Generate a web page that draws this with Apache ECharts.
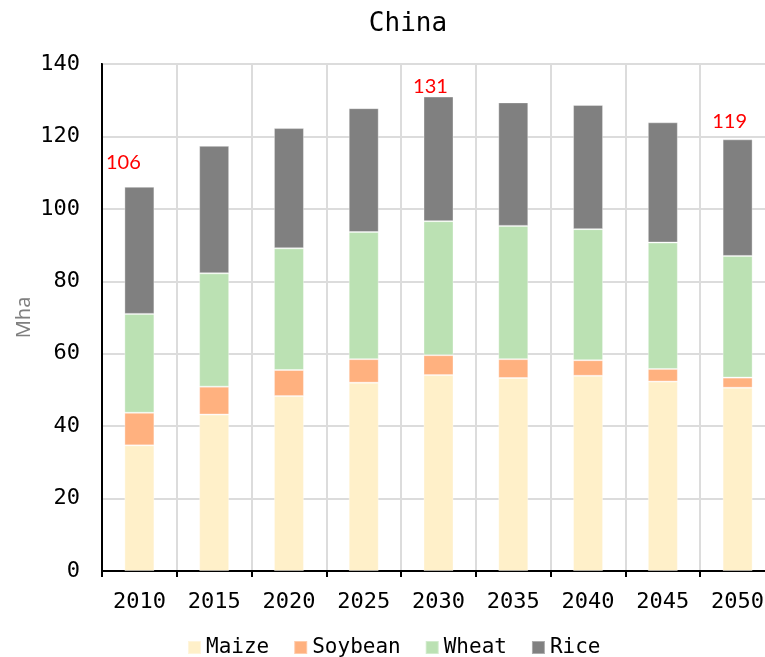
<!DOCTYPE html>
<html>
<head>
<meta charset="utf-8">
<script src="https://cdn.jsdelivr.net/npm/echarts@6/dist/echarts.min.js"></script>
<style>
  html, body { margin: 0; padding: 0; background: #fff; }
  #chart { width: 765px; height: 657px; }
</style>
</head>
<body>
<div id="chart"></div>
<script>
// Harvested area by crop, China (million hectares)
const years   = ['2010', '2015', '2020', '2025', '2030', '2035', '2040', '2045', '2050'];
const maize   = [34.7, 43.2, 48.3, 52.0, 54.1, 53.3, 53.9, 52.3, 50.6];
const soybean = [9.0, 7.7, 7.2, 6.5, 5.5, 5.2, 4.3, 3.5, 2.8];
const wheat   = [27.3, 31.3, 33.6, 35.1, 37.0, 36.8, 36.2, 34.9, 33.6];
const rice    = [35.1, 35.2, 33.2, 34.2, 34.4, 34.1, 34.3, 33.2, 32.2];
const seriesNames = ['Maize', 'Soybean', 'Wheat', 'Rice'];
const yTicks = [0, 20, 40, 60, 80, 100, 120, 140];

// years whose stack total is annotated
const labelledYears = ['2010', '2030', '2050'];

const colors = ['#fff0c9', '#ffb17f', '#bbe1b3', '#808080'];
const mono = '"DejaVu Sans Mono", monospace';

const totals = years.map((_, i) => maize[i] + soybean[i] + wheat[i] + rice[i]);

// per-label nudges for the total annotations
const labelOffsets = { '2010': [-16, -9], '2030': [-8, 5], '2050': [-8, -3] };

const chart = echarts.init(document.getElementById('chart'), null, { renderer: 'canvas' });

const barStyle = (c) => ({ color: c, borderColor: 'rgba(255,255,255,0.35)', borderWidth: 1 });

const riceData = rice.map((v, i) => {
  const y = years[i];
  if (!labelledYears.includes(y)) return v;
  return {
    value: v,
    label: {
      show: true,
      position: 'top',
      offset: labelOffsets[y],
      formatter: () => String(Math.round(totals[i])),
      color: '#ff0000',
      fontFamily: 'Lato',
      fontSize: 20
    }
  };
});

const dataSets = [maize, soybean, wheat, riceData];

chart.setOption({
  animation: false,
  backgroundColor: '#fff',
  title: {
    text: 'China',
    left: 403,
    textAlign: 'center',
    top: 6,
    textStyle: { fontFamily: mono, fontSize: 26, fontWeight: 'normal', color: '#000' }
  },
  legend: {
    data: seriesNames,
    left: 182,
    top: 632,
    icon: 'rect',
    itemWidth: 13,
    itemHeight: 13,
    itemGap: 24,
    textStyle: { fontFamily: mono, fontSize: 21, color: '#000' }
  },
  // plot area runs past the right edge of the canvas
  grid: {
    left: 102, width: 673, top: 64, height: 507,
    outerBoundsMode: 'none',
    containLabel: false,
    show: true, borderColor: '#000', borderWidth: 2, backgroundColor: 'transparent'
  },
  xAxis: {
    type: 'category',
    data: years,
    boundaryGap: true,
    axisLine: { show: true, lineStyle: { color: '#000', width: 2 } },
    axisTick: { show: true, length: 6, lineStyle: { color: '#000', width: 2 } },
    axisLabel: { fontFamily: mono, fontSize: 22, color: '#000', margin: 20 },
    splitLine: { show: true, lineStyle: { color: '#dcdcdc', width: 2 } }
  },
  yAxis: {
    type: 'value',
    min: yTicks[0],
    max: yTicks[yTicks.length - 1],
    interval: yTicks[1] - yTicks[0],
    name: 'Mha',
    nameLocation: 'middle',
    nameGap: 68,
    nameMoveOverlap: false,
    nameTextStyle: { fontFamily: 'Noto Sans', fontSize: 20, color: '#7f7f7f' },
    axisLine: { show: true, lineStyle: { color: '#000', width: 2 } },
    axisTick: { show: false },
    axisLabel: { fontFamily: mono, fontSize: 22, color: '#000', margin: 22 },
    splitLine: { show: true, lineStyle: { color: '#dcdcdc', width: 2 } }
  },
  series: seriesNames.map((name, k) => ({
    name,
    type: 'bar',
    stack: 'area',
    barWidth: 30,
    itemStyle: barStyle(colors[k]),
    data: dataSets[k]
  }))
});
</script>
</body>
</html>
